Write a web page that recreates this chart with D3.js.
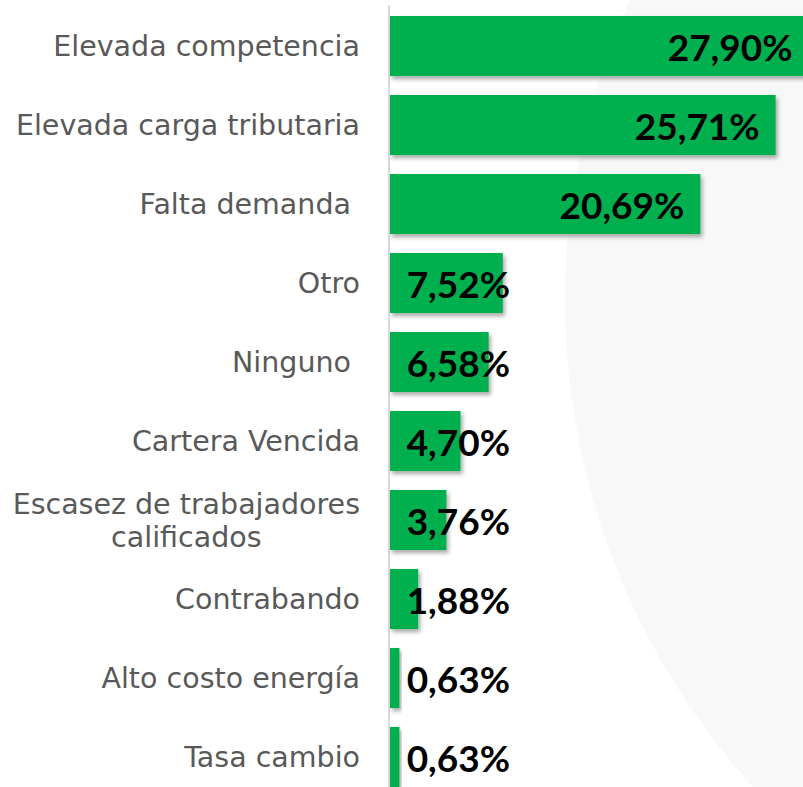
<!DOCTYPE html>
<html>
<head>
<meta charset="utf-8">
<script src="https://cdn.jsdelivr.net/npm/d3@7"></script>
<style>
  body { margin: 0; background: #fff; }
  svg { display: block; }
</style>
</head>
<body>
<div id="viz"></div>
<script>
// data
var categories = ["Elevada competencia", "Elevada carga tributaria", "Falta demanda ", "Otro", "Ninguno ",
  "Cartera Vencida", "Escasez de trabajadores calificados", "Contrabando", "Alto costo energía", "Tasa cambio"];
var values = [27.90, 25.71, 20.69, 7.52, 6.58, 4.70, 3.76, 1.88, 0.63, 0.63];
var labelLines = [["Elevada competencia"], ["Elevada carga tributaria"], ["Falta demanda "], ["Otro"], ["Ninguno "],
  ["Cartera Vencida"], ["Escasez de trabajadores", "calificados"], ["Contrabando"], ["Alto costo energía"], ["Tasa cambio"]];

var width = 803, height = 787;
var data = categories.map(function (c, i) { return { cat: c, value: values[i], lines: labelLines[i] }; });

var svg = d3.select("#viz").append("svg")
  .attr("width", width)
  .attr("height", height);

// shadow under the bars
var defs = svg.append("defs");
defs.append("filter")
  .attr("id", "shadow")
  .attr("x", "-10%").attr("y", "-20%").attr("width", "130%").attr("height", "160%")
  .append("feDropShadow")
  .attr("dx", 2).attr("dy", 3)
  .attr("stdDeviation", 2)
  .attr("flood-color", "#000")
  .attr("flood-opacity", 0.35);

// big pale circle in the background
svg.append("circle")
  .attr("cx", 1290)
  .attr("cy", 300)
  .attr("r", 725)
  .style("fill", "#f8f8f8");

var x = d3.scaleLinear().domain([0, 30]).range([390, 840]);
var y = d3.scaleBand().domain(categories).range([16, 787]).paddingInner(0.24).paddingOuter(0);

// axis line
svg.append("line")
  .attr("x1", 389).attr("x2", 389)
  .attr("y1", 5).attr("y2", height)
  .style("stroke", "#d9d9d9")
  .style("stroke-width", 2);

svg.selectAll("rect.bar")
  .data(data)
  .enter().append("rect")
  .attr("class", "bar")
  .attr("x", x(0))
  .attr("y", function (d) { return y(d.cat); })
  .attr("width", function (d) { return x(d.value) - x(0); })
  .attr("height", y.bandwidth())
  .attr("filter", "url(#shadow)")
  .style("fill", "#00b050");

// category labels, wrapped lines centred on the block
var labelRight = 360;
svg.selectAll("g.cat")
  .data(data)
  .enter().append("g")
  .attr("class", "cat")
  .each(function (d) {
    var g = d3.select(this);
    var n = d.lines.length;
    var texts = d.lines.map(function (l, i) {
      return g.append("text")
        .attr("y", y(d.cat) + y.bandwidth() / 2 + (i - (n - 1) / 2) * 33)
        .attr("dy", "0.36em")
        .style("font-family", "'DejaVu Sans', sans-serif")
        .style("font-size", "28.5px")
        .style("white-space", "pre")
        .style("fill", "#595959")
        .text(l);
    });
    var maxW = d3.max(texts, function (t) { return t.node().getComputedTextLength(); });
    texts.forEach(function (t) {
      if (n > 1) t.attr("text-anchor", "middle").attr("x", labelRight - maxW / 2);
      else t.attr("text-anchor", "end").attr("x", labelRight);
    });
  });

// value labels
svg.selectAll("text.val")
  .data(data)
  .enter().append("text")
  .attr("class", "val")
  .attr("text-anchor", "end")
  .attr("x", function (d) { return Math.max(x(d.value) - 16, 510); })
  .attr("y", function (d) { return y(d.cat) + y.bandwidth() / 2; })
  .attr("dy", "0.4em")
  .style("font-family", "Lato, sans-serif")
  .style("font-weight", "bold")
  .style("font-size", "37px")
  .style("fill", "#000")
  .text(function (d) { return d.value.toFixed(2).replace(".", ",") + "%"; });
</script>
</body>
</html>
